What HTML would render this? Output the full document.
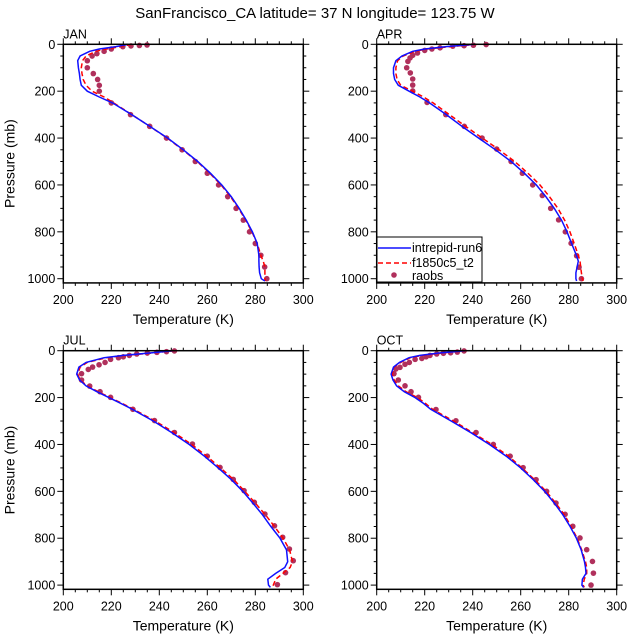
<!DOCTYPE html>
<html><head><meta charset="utf-8"><style>
body{margin:0;background:#fff;}
svg{display:block;font-family:"Liberation Sans",sans-serif;}
</style></head><body>
<svg id="chart" width="631" height="640" viewBox="0 0 631 640">
<text x="315" y="18" font-size="15" text-anchor="middle">SanFrancisco_CA  latitude= 37 N longitude= 123.75 W</text>
</svg>
<script>
const months = ["JAN","APR","JUL","OCT"];
const modelP = [0,10,20,30,50,70,100,125,150,175,200,225,250,300,350,400,450,500,550,600,650,700,750,800,850,900,925,950,975,1000,1010];
const blueJAN = [227,222,215,211,207,206,206.3,206.7,207,207.5,210,215,220.5,228.5,236,243.5,250,256,261.3,266,270,273.3,276.2,278.8,280.8,281.5,281.5,281.6,281.8,282.5,284];
const redJAN = [228.5,224,218,213.5,209.5,208,207.5,207.8,208.3,209.5,212,217,221,228.5,236,243.3,249.8,255.8,261,265.7,269.7,273,276,278.6,280.8,282.3,283.3,284,284,284,284.3];
const blueAPR = [241,229,220,215,210.5,208,207,207,207.5,209,213.5,218,222,229,235.5,242.5,249.5,256,261.5,266.5,270.5,274,277,279.3,281.2,283.2,284,283.5,283,283,283.3];
const redAPR = [242,231,221,216,211,208.7,208,208,208.5,210,215,219.5,223.5,230.3,237,244,251,257.5,263,268,272,275.5,278.3,280.5,282.3,284,284.7,285,285.3,285.7,286];
const blueJUL = [246,236,225,217,209.5,206.5,205.6,206.8,209.5,214,219,224,228.8,237.5,245.3,252.5,258.8,264.6,270,274.8,279,283,286.5,290.3,293,293.5,292.3,288.5,285.2,285.5,286.3];
const redJUL = [246.5,237,226,218,210,207,206,207,210,214.5,219.5,224.5,229.3,238.3,246.2,253.5,259.8,265.5,271,275.6,280,284.2,288,291.6,294.3,295.5,294.5,291.5,288.5,287.5,288];
const blueOCT = [237,226,218,213.5,209.5,207,206,206.8,208.3,211.5,216,219.5,222.5,231,239.3,247,254,260,265.2,270,274,277.6,280.6,283.2,285.2,286.6,287,287.2,285.7,285.5,286.2];
const redOCT = [237.5,227,219,214,210,207.3,206.5,207.3,209,212.2,217,220.3,223.3,232,240,248,255,260.5,265.8,270.6,274.6,278.2,281,283.5,285.4,287,287.5,287.5,286.5,286,286.5];
const obsPJAN = [3,5,7,10,20,30,40,50,70,100,125,150,175,200,250,300,350,400,450,500,550,600,650,700,750,800,850,900,950,1000];
const obsTJAN = [234.9,231.7,228.2,224.8,220,217,214,212,210,210,212.5,214.3,215,215,220,228,236,243,249.5,255,260,264.7,268.5,272,275,277.6,280,282.3,283.9,284.8];
const obsPAPR = [1,4,6,8,15,20,26,37,47,58,73,100,122,148,174,199,248,300,350,400,447,500,550,600,645,700,749,800,849,902,951,1000];
const obsTAPR = [245.6,240.3,236.4,231.7,226.4,223,220,217,215,213.9,213,212.5,214,215,215,215,221,228.8,236.5,243.9,250,256,260.7,265,269,272.5,275.8,278.6,281,283.3,284.3,285.3];
const obsPJUL = [1,4,7,10,14,20,26,30,37,50,60,70,80,98,125,151,175,199,250,298,349,398,450,498,549,597,647,697,747,796,846,896,947,998];
const obsTJUL = [246.3,243,239,235,230.6,227.5,225,223,219.7,217.4,214.9,212.2,210.4,207.6,207.6,211,215.3,219.7,229,238,246.3,253.8,260,265.3,270.8,275.3,279.6,284,288,291.4,294.2,295.8,292.6,289.2];
const obsPOCT = [1,6,9,11,14,20,26,33,37,50,58,71,78,98,125,150,175,199,251,299,349,400,450,499,550,600,650,698,749,799,849,899,949,1000];
const obsTOCT = [236.4,233.6,230.8,227.8,225,222.2,220.6,218.8,216,213.6,211.8,209.7,208,207.2,209,211.8,214.3,217.4,224.7,233,241.4,248.6,255.6,261,266.4,270.8,274.7,278.5,281.7,284.7,287.5,289.9,290.3,289.3];
const xTicks = [200,220,240,260,280,300];
const yTicks = [0,200,400,600,800,1000];

const NS="http://www.w3.org/2000/svg";
const svg=document.getElementById('chart');
function mk(tag,attrs,parent){const e=document.createElementNS(NS,tag);for(const k in attrs)e.setAttribute(k,attrs[k]);(parent||svg).appendChild(e);return e;}
const panels=[
 {m:"JAN",x0:63.3,y0:44.3,b:blueJAN,r:redJAN,op:obsPJAN,ot:obsTJAN,yl:true},
 {m:"APR",x0:376.7,y0:44.3,b:blueAPR,r:redAPR,op:obsPAPR,ot:obsTAPR,yl:false},
 {m:"JUL",x0:63.3,y0:350.7,b:blueJUL,r:redJUL,op:obsPJUL,ot:obsTJUL,yl:true},
 {m:"OCT",x0:376.7,y0:350.7,b:blueOCT,r:redOCT,op:obsPOCT,ot:obsTOCT,yl:false}];
const W=240, PMAX=1018, H=0.2344*PMAX;
panels.forEach((p,i)=>{
 const g=mk('g',{});
 
 
 const xs=t=>p.x0+(t-200)/100*W;
 const ys=v=>p.y0+v*0.2344;
 const lbl=mk('text',{x:p.x0,y:p.y0-6,'font-size':12.5},g);lbl.textContent=p.m;
 
 
 for(let t=200;t<=300;t+=5){const maj=(t%20===0);const L=maj?6:3;
  mk('line',{x1:xs(t),x2:xs(t),y1:p.y0,y2:p.y0-L,stroke:'#000','stroke-width':1},g);
  mk('line',{x1:xs(t),x2:xs(t),y1:p.y0+H,y2:p.y0+H+L,stroke:'#000','stroke-width':1},g);}
 for(let v=0;v<=1000;v+=50){const maj=(v%200===0);const L=maj?6:3;
  mk('line',{x1:p.x0,x2:p.x0-L,y1:ys(v),y2:ys(v),stroke:'#000','stroke-width':1},g);
  mk('line',{x1:p.x0+W,x2:p.x0+W+L,y1:ys(v),y2:ys(v),stroke:'#000','stroke-width':1},g);}
 xTicks.forEach(t=>{const e=mk('text',{x:xs(t),y:p.y0+H+21,'font-size':12.5,'text-anchor':'middle'},g);e.textContent=t;
  
  });
 yTicks.forEach(v=>{const e=mk('text',{x:p.x0-8,y:ys(v)+4.5,'font-size':12.5,'text-anchor':'end'},g);e.textContent=v;
  
  });
 const xt=mk('text',{x:p.x0+W/2,y:p.y0+H+41,'font-size':14,'text-anchor':'middle'},g);xt.textContent='Temperature (K)';
 
 
 if(p.yl){const yt=mk('text',{x:0,y:0,'font-size':14,'text-anchor':'middle',transform:`translate(${p.x0-49},${p.y0+H/2}) rotate(-90)`},g);yt.textContent='Pressure (mb)';
  
  }
 const line=(arr,col,dash,name)=>{const d=arr.map((t,k)=>(k?'L':'M')+xs(t).toFixed(1)+','+ys(modelP[k]).toFixed(1)).join('');
  const e=mk('path',{d:d,fill:'none',stroke:col,'stroke-width':1.5},g);if(dash)e.setAttribute('stroke-dasharray',dash);
  
  };
 p.ot.forEach((t,k)=>{const c=mk('circle',{cx:xs(t),cy:ys(p.op[k]),r:2.8,fill:'#b0305c'},g);
  
  });
 line(p.r,'#ff0000','5,3','f1850c5-line');
 line(p.b,'#1010ff',null,'intrepid-line');
 const box=mk('rect',{x:p.x0,y:p.y0,width:W,height:H,fill:'none',stroke:'#000','stroke-width':1.5},g);
 
 
});
const lg=mk('g',{});


mk('rect',{x:377,y:237,width:105,height:45,fill:'#fff',stroke:'#000','stroke-width':1},lg);
mk('line',{x1:378,x2:411,y1:248,y2:248,stroke:'#1010ff','stroke-width':1.5},lg);
mk('line',{x1:378,x2:411,y1:263,y2:263,stroke:'#ff0000','stroke-width':1.5,'stroke-dasharray':'5,3'},lg);
mk('circle',{cx:394,cy:275,r:2.8,fill:'#b0305c'},lg);
[['intrepid-run6',252],['f1850c5_t2',267],['raobs',280]].forEach(([s,y])=>{const e=mk('text',{x:412,y:y,'font-size':12.5},lg);e.textContent=s;
 
 });
</script>
</body></html>
